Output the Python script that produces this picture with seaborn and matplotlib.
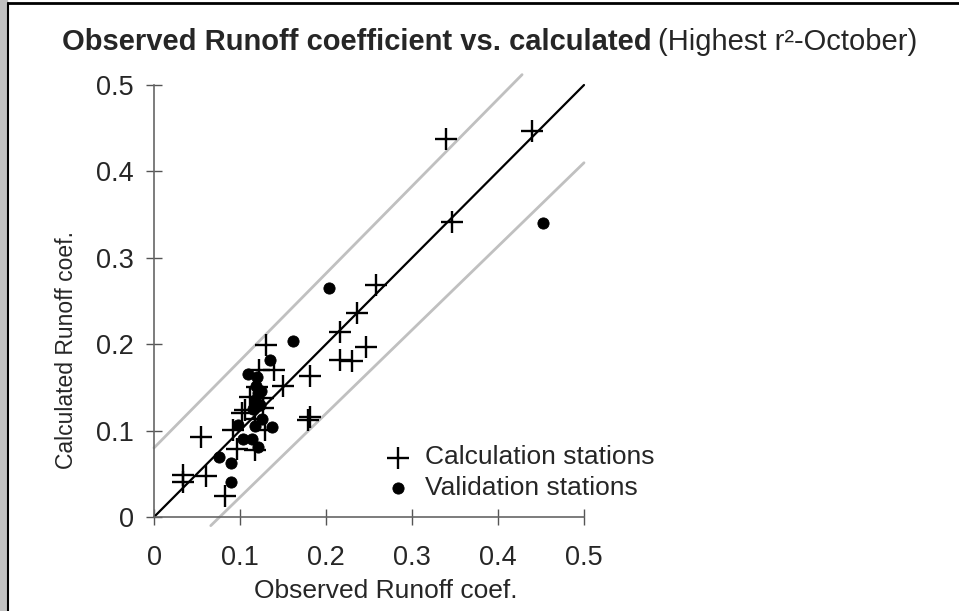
import matplotlib
matplotlib.use("Agg")
import matplotlib.pyplot as plt
import seaborn as sns
import pandas as pd
from matplotlib.patches import Rectangle
from matplotlib.lines import Line2D

# --- data ---
calc_obs = [0.339, 0.440, 0.347, 0.258, 0.236, 0.216, 0.247, 0.216, 0.230, 0.181,
            0.150, 0.181, 0.179, 0.130, 0.122, 0.139, 0.112, 0.127, 0.106, 0.127,
            0.102, 0.092, 0.129, 0.055, 0.117, 0.096, 0.083, 0.034, 0.034, 0.061,
            0.120, 0.118]
calc_est = [0.438, 0.447, 0.342, 0.269, 0.236, 0.214, 0.197, 0.182, 0.180, 0.163,
            0.152, 0.116, 0.112, 0.199, 0.170, 0.170, 0.139, 0.138, 0.124, 0.126,
            0.120, 0.101, 0.101, 0.093, 0.078, 0.079, 0.024, 0.049, 0.041, 0.047,
            0.150, 0.113]

valid_obs = [0.452, 0.204, 0.162, 0.135, 0.109, 0.120, 0.119, 0.121, 0.117, 0.123,
             0.115, 0.098, 0.117, 0.137, 0.104, 0.114, 0.121, 0.075, 0.090, 0.089,
             0.126, 0.124]
valid_est = [0.340, 0.265, 0.204, 0.182, 0.165, 0.162, 0.152, 0.143, 0.135, 0.130,
             0.125, 0.106, 0.105, 0.104, 0.090, 0.090, 0.081, 0.070, 0.062, 0.040,
             0.113, 0.146]

# 1:1 line and the grey band lines
line_x = [0, 0.5]
line_y = [0, 0.5]
upper_x = [0, 0.428]
upper_y = [0.08, 0.512]
lower_x = [0.066, 0.5]
lower_y = [-0.01, 0.41]

ticks = [0, 0.1, 0.2, 0.3, 0.4, 0.5]
tick_labels = ["0", "0.1", "0.2", "0.3", "0.4", "0.5"]

df_calc = pd.DataFrame({"obs": calc_obs, "est": calc_est})
df_valid = pd.DataFrame({"obs": valid_obs, "est": valid_est})

sns.set_style("ticks")
plt.rcParams['font.family'] = ['Liberation Sans', 'DejaVu Sans']

fig = plt.figure(figsize=(9.59, 6.11), dpi=100)
ax = fig.add_axes([154/959, 94/611, 430/959, 432/611])

# band lines + 1:1 line
ax.plot(upper_x, upper_y, color='#c0c0c0', lw=2, clip_on=False, zorder=1)
ax.plot(lower_x, lower_y, color='#c0c0c0', lw=2, clip_on=False, zorder=1)
ax.plot(line_x, line_y, color='black', lw=1.6, clip_on=False, zorder=2)

sns.scatterplot(data=df_calc, x="obs", y="est", marker='+', s=260, color='black',
                linewidth=1.7, ax=ax, label="Calculation stations", zorder=3, clip_on=False)
sns.scatterplot(data=df_valid, x="obs", y="est", marker='o', s=65, color='black',
                edgecolor='black', ax=ax, label="Validation stations", zorder=3, clip_on=False)

ax.set_xlim(0, 0.5)
ax.set_ylim(0, 0.5)
ax.set_xticks(ticks)
ax.set_xticklabels(tick_labels)
ax.set_yticks(ticks)
ax.set_yticklabels(tick_labels)
ax.tick_params(direction='inout', length=11, width=1, color='#555555',
               labelsize=19.5)
ax.tick_params(axis='x', pad=15)
ax.tick_params(axis='y', pad=9)
sns.despine(ax=ax)
for s in ['left', 'bottom']:
    ax.spines[s].set_color('#666666')
    ax.spines[s].set_linewidth(1.2)

ax.set_xlabel("Observed Runoff coef.", fontsize=19)
ax.set_ylabel("Calculated Runoff coef.", fontsize=16.5)
ax.xaxis.set_label_coords(0.54, -0.143)
ax.yaxis.set_label_coords(-0.177, 0.387)

leg = ax.legend(loc='upper left', bbox_to_anchor=(0.516, 0.19), frameon=False,
                fontsize=19, handlelength=0.9, handletextpad=0.55, labelspacing=0.25,
                borderaxespad=0)

# title: bold part + normal part
fig.canvas.draw()
r = fig.canvas.get_renderer()
t1 = fig.text(62/959, 1 - 42/611, "Observed Runoff coefficient vs. calculated",
              fontsize=21, fontweight='bold', ha='left', va='center')
bb = t1.get_window_extent(renderer=r)
fig.text(bb.x1/fig.bbox.width + 6/959, 1 - 42/611, "(Highest r²-October)",
         fontsize=21, ha='left', va='center')

# frame bits at the edge of the picture
fig.patches.append(Rectangle((0, 0), 7/959, 1, transform=fig.transFigure,
                             color='#c0c0c0', zorder=0))
fig.lines.append(Line2D([8/959, 8/959], [0, 1 - 3/611], transform=fig.transFigure,
                        color='black', lw=1.5))
fig.lines.append(Line2D([8/959, 1], [1 - 3/611, 1 - 3/611], transform=fig.transFigure,
                        color='black', lw=2))

fig.savefig("out.png", dpi=100)
